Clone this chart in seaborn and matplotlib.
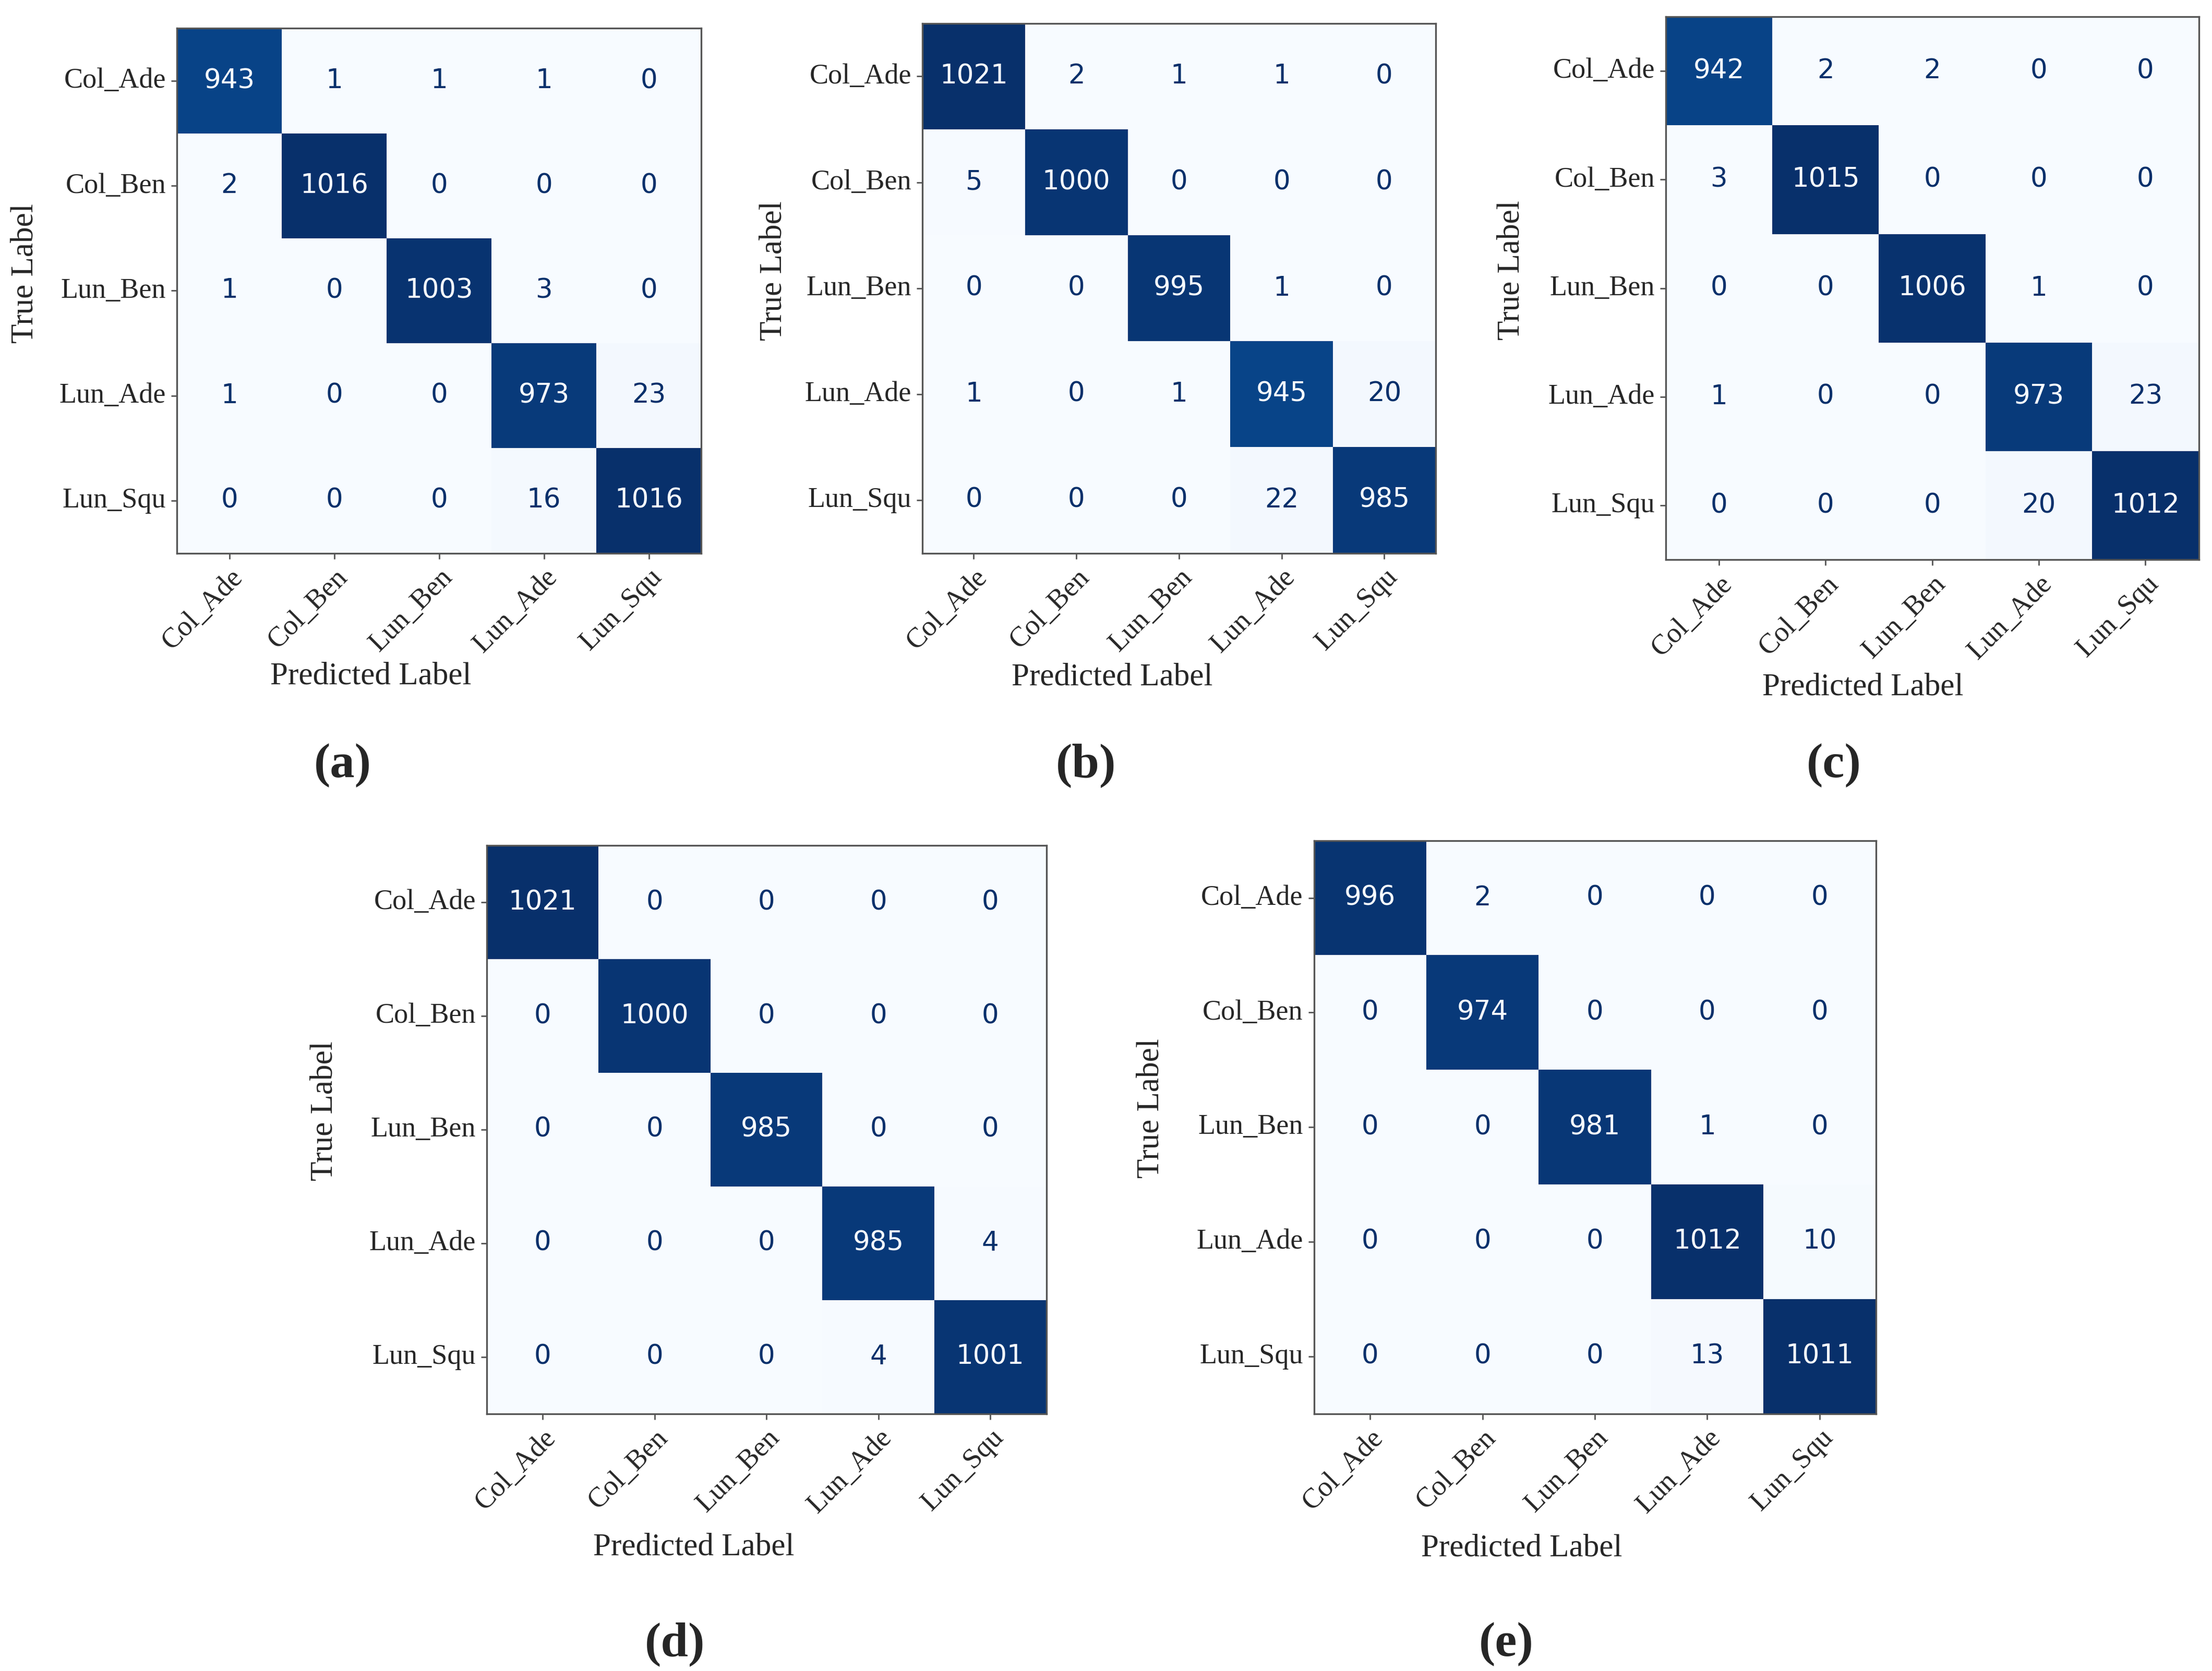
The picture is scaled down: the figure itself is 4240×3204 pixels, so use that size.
import numpy as np
import pandas as pd
import matplotlib.pyplot as plt
import seaborn as sns

classes = ['Col_Ade', 'Col_Ben', 'Lun_Ben', 'Lun_Ade', 'Lun_Squ']

cm_a = [[943, 1, 1, 1, 0],
        [2, 1016, 0, 0, 0],
        [1, 0, 1003, 3, 0],
        [1, 0, 0, 973, 23],
        [0, 0, 0, 16, 1016]]
cm_b = [[1021, 2, 1, 1, 0],
        [5, 1000, 0, 0, 0],
        [0, 0, 995, 1, 0],
        [1, 0, 1, 945, 20],
        [0, 0, 0, 22, 985]]
cm_c = [[942, 2, 2, 0, 0],
        [3, 1015, 0, 0, 0],
        [0, 0, 1006, 1, 0],
        [1, 0, 0, 973, 23],
        [0, 0, 0, 20, 1012]]
cm_d = [[1021, 0, 0, 0, 0],
        [0, 1000, 0, 0, 0],
        [0, 0, 985, 0, 0],
        [0, 0, 0, 985, 4],
        [0, 0, 0, 4, 1001]]
cm_e = [[996, 2, 0, 0, 0],
        [0, 974, 0, 0, 0],
        [0, 0, 981, 1, 0],
        [0, 0, 0, 1012, 10],
        [0, 0, 0, 13, 1011]]

panel_tags = ['(a)', '(b)', '(c)', '(d)', '(e)']

sns.set_theme(style='white')
plt.rcParams['font.family'] = ['DejaVu Sans']
serif = 'Liberation Serif'

fig = plt.figure(figsize=(21.2, 16.02), dpi=200)

# [left, bottom, width, height] of each heatmap, and centre of its tag
boxes = [[0.080, 0.669, 0.237, 0.314],
         [0.417, 0.669, 0.232, 0.317],
         [0.753, 0.665, 0.241, 0.325],
         [0.220, 0.154, 0.253, 0.340],
         [0.594, 0.154, 0.254, 0.343]]
tag_pos = [(0.155, 0.542), (0.491, 0.542), (0.829, 0.542),
           (0.305, 0.016), (0.681, 0.016)]

cmap = plt.get_cmap('Blues')

for cm, box, tag, tp in zip([cm_a, cm_b, cm_c, cm_d, cm_e], boxes, panel_tags, tag_pos):
    df = pd.DataFrame(cm, index=classes, columns=classes)
    ax = fig.add_axes(box)
    vmax = df.values.max()
    sns.heatmap(df, ax=ax, cmap='Blues', vmin=0, vmax=vmax, cbar=False,
                annot=True, fmt='d', annot_kws={'fontsize': 18.5})
    # sklearn style text colours
    thresh = vmax / 2
    for t in ax.texts:
        v = int(t.get_text())
        t.set_color(cmap(0.0) if v > thresh else cmap(1.0))
    for s in ax.spines.values():
        s.set_visible(True)
        s.set_color('#555555')
        s.set_linewidth(1.2)
    ax.tick_params(axis='both', length=4, width=1, color='#555555',
                   bottom=True, left=True)
    ax.set_xticklabels(classes, rotation=45, ha='right', rotation_mode='anchor',
                       fontfamily=serif, fontsize=19.5)
    ax.set_yticklabels(classes, rotation=0, fontfamily=serif, fontsize=19.5)
    ax.set_xlabel('Predicted Label', fontfamily=serif, fontsize=22, va='center')
    ax.set_ylabel('True Label', fontfamily=serif, fontsize=22, va='center')
    ax.xaxis.set_label_coords(0.37, -0.235)
    ax.yaxis.set_label_coords(-0.29, 0.533)
    fig.text(tp[0], tp[1], tag, ha='center', va='center', fontfamily=serif,
             fontsize=34, fontweight='bold')

fig.savefig('out.png', dpi=200, facecolor='white')
